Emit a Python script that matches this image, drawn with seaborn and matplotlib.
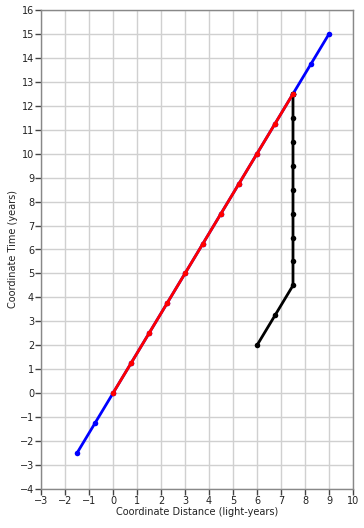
import matplotlib
matplotlib.use("Agg")
import matplotlib.pyplot as plt
import seaborn as sns
import numpy as np

# Data
blue_x = [-1.5, -0.75, 0, 0.75, 1.5, 2.25, 3, 3.75, 4.5, 5.25, 6, 6.75, 7.5, 8.25, 9]
blue_y = [-2.5, -1.25, 0, 1.25, 2.5, 3.75, 5, 6.25, 7.5, 8.75, 10, 11.25, 12.5, 13.75, 15]
red_x = [0, 0.75, 1.5, 2.25, 3, 3.75, 4.5, 5.25, 6, 6.75, 7.5]
red_y = [0, 1.25, 2.5, 3.75, 5, 6.25, 7.5, 8.75, 10, 11.25, 12.5]
black_x = [6, 6.75, 7.5, 7.5, 7.5, 7.5, 7.5, 7.5, 7.5, 7.5, 7.5, 7.5]
black_y = [2, 3.25, 4.5, 5.5, 6.5, 7.5, 8.5, 9.5, 10.5, 11.5, 12.5, 12.5]
x_ticks = list(range(-3, 11))
y_ticks = list(range(-4, 17))

sns.set_style("white")
plt.rcParams['font.family'] = ['DejaVu Sans']

fig = plt.figure(figsize=(3.64, 5.28), dpi=100)
ax = fig.add_axes([41/364, 39/528, 312/364, 479/528])

kw = dict(marker='o', markersize=4, linewidth=2, sort=False, estimator=None, markeredgewidth=0)
sns.lineplot(x=blue_x, y=blue_y, color='#0000ff', ax=ax, **kw)
sns.lineplot(x=black_x, y=black_y, color='#000000', ax=ax, **kw)
sns.lineplot(x=red_x, y=red_y, color='#ff0000', ax=ax, **kw)

ax.set_xlim(-3, 10)
ax.set_ylim(-4, 16)
ax.set_xticks(x_ticks)
ax.set_yticks(y_ticks)
ax.grid(True, color='#d0d0d0', linewidth=1)
ax.set_axisbelow(True)
for s in ax.spines.values():
    s.set_color('#888888')
    s.set_linewidth(1)
ax.tick_params(axis='both', direction='out', length=4, width=1, color='#444444',
               labelsize=7, labelcolor='#222222', pad=1, left=True, bottom=True)
ax.set_xlabel('Coordinate Distance (light-years)', fontsize=7, color='#222222', labelpad=1)
ax.set_ylabel('Coordinate Time (years)', fontsize=7, color='#222222', labelpad=1)

fig.savefig('out.png', dpi=100)
